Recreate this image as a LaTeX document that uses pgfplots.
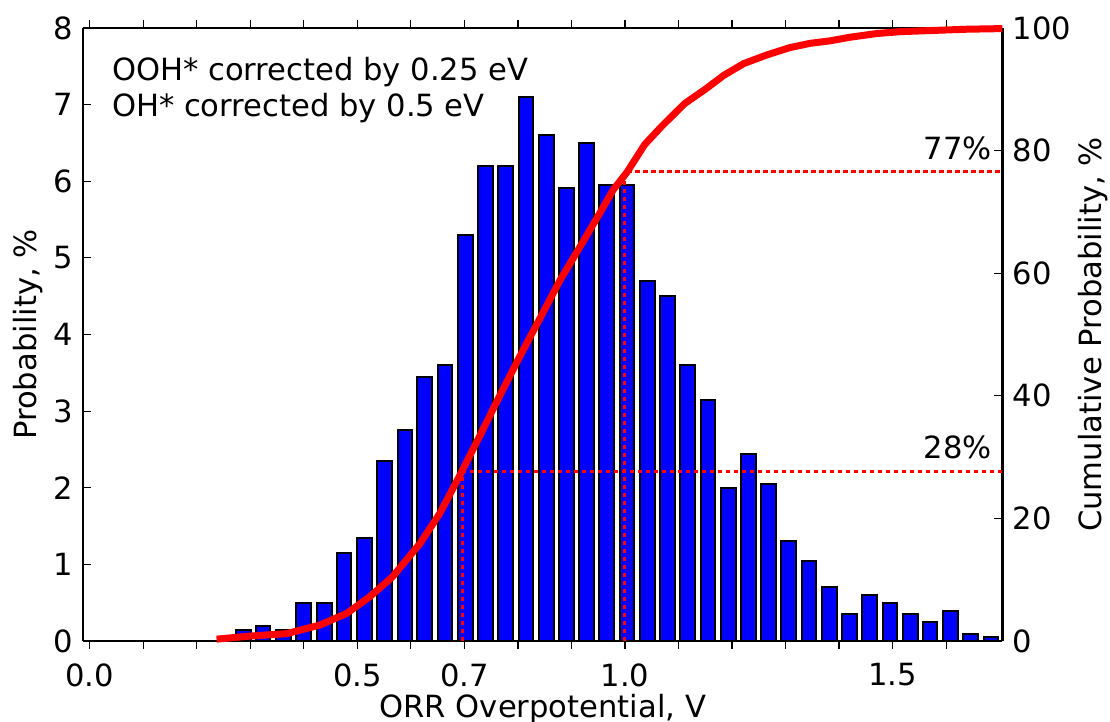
\documentclass[border=0pt]{standalone}
\usepackage{fontspec}
\setmainfont{DejaVu Sans}
\usepackage{pgfplots}
\pgfplotsset{compat=1.18}
\definecolor{mplblue}{RGB}{0,0,255}
\definecolor{mplred}{RGB}{255,0,0}
\begin{document}
\fontsize{15.3}{18}\selectfont
\begin{tikzpicture}
\useasboundingbox (-41.65pt,-40.5pt) rectangle (513.35pt,320.5pt);
\begin{axis}[
  at={(0,0)}, anchor=south west,
  scale only axis, width=459.5pt, height=306.5pt,
  xmin=-0.012, xmax=1.705, ymin=0, ymax=8,
  axis y line*=left,
  axis line style={line width=1.2pt},
  tick style={line width=0.6pt, black},
  major tick length=4pt,
  tick align=inside,
  xtick={0,0.1,0.2,0.3,0.4,0.5,0.6,0.7,0.8,0.9,1.0,1.1,1.2,1.3,1.4,1.5,1.6},
  xticklabels={0.0,,,,,0.5,,0.7,,,1.0,,,,,1.5,},
  xticklabel style={yshift=-2pt},
  ytick={0,1,2,3,4,5,6,7,8},
  /pgf/number format/assume math mode=true,
  ybar, bar width=7.35pt,
  xlabel={ORR Overpotential, V},
  xlabel style={at={(rel axis cs:0.5,0)}, anchor=base, yshift=-38.3pt},
  ylabel={Probability, \%},
  ylabel style={at={(rel axis cs:-0.0598,0.5)}, anchor=center},
  clip=false,
]
\addplot[fill=mplblue, draw=black, line width=1pt] coordinates {
(0.287,0.14) (0.324,0.20) (0.362,0.14) (0.400,0.49) (0.438,0.49)
(0.475,1.15) (0.513,1.35) (0.551,2.35) (0.589,2.75) (0.626,3.45)
(0.664,3.60) (0.702,5.30) (0.740,6.20) (0.777,6.20) (0.815,7.10)
(0.853,6.61) (0.891,5.91) (0.928,6.50) (0.966,5.95) (1.004,5.95)
(1.042,4.70) (1.079,4.50) (1.117,3.60) (1.155,3.15) (1.193,2.00)
(1.231,2.44) (1.268,2.05) (1.306,1.30) (1.344,1.05) (1.382,0.70)
(1.419,0.35) (1.457,0.60) (1.495,0.49) (1.533,0.35) (1.570,0.25)
(1.608,0.39) (1.646,0.09) (1.684,0.05)
};
\node[anchor=base west, inner sep=0pt] at (axis cs:0.041,7.31) {OOH* corrected by 0.25 eV};
\node[anchor=base west, inner sep=0pt] at (axis cs:0.041,6.85) {OH* corrected by 0.5 eV};
\end{axis}
\begin{axis}[
  at={(0,0)}, anchor=south west,
  scale only axis, width=459.5pt, height=306.5pt,
  xmin=-0.012, xmax=1.705, ymin=0, ymax=100,
  axis y line*=right, axis x line=none,
  axis line style={line width=1.2pt},
  tick style={line width=0.6pt, black},
  major tick length=4pt,
  tick align=inside,
  ytick={0,20,40,60,80,100},
  /pgf/number format/assume math mode=true,
  ylabel={Cumulative Probability, \%},
  ylabel style={at={(rel axis cs:1.0987,0.5)}, anchor=center},
  clip=false,
]
\addplot[mplred, line width=3.5pt, line join=round, line cap=butt] coordinates {
(0.237,0.3) (0.299,0.8) (0.368,1.2) (0.430,2.6) (0.480,4.5) (0.523,7.2)
(0.566,10.5) (0.617,15.9) (0.654,20.8) (0.692,27.1) (0.729,33.5)
(0.766,40.0) (0.804,46.5) (0.841,52.6) (0.879,58.9) (0.916,64.3)
(0.953,69.8) (0.978,73.6) (1.004,76.5) (1.037,81.0) (1.069,84.0)
(1.112,87.7) (1.150,90.0) (1.185,92.3) (1.222,94.2) (1.265,95.6)
(1.308,96.8) (1.346,97.5) (1.383,97.9) (1.421,98.5) (1.471,99.1)
(1.514,99.4) (1.576,99.6) (1.639,99.8) (1.705,99.9)
};
\addplot[mplred, line width=1.5pt, dash pattern=on 2.2pt off 1.8pt] coordinates {(0.697,0) (0.697,27.6) (1.705,27.6)};
\addplot[mplred, line width=1.5pt, dash pattern=on 2.2pt off 1.8pt] coordinates {(1.0,0) (1.0,76.6) (1.705,76.6)};
\node[anchor=base east, inner sep=0pt] at (axis cs:1.686,78.5) {77\%};
\node[anchor=base east, inner sep=0pt] at (axis cs:1.686,29.7) {28\%};
\end{axis}
\end{tikzpicture}
\end{document}
